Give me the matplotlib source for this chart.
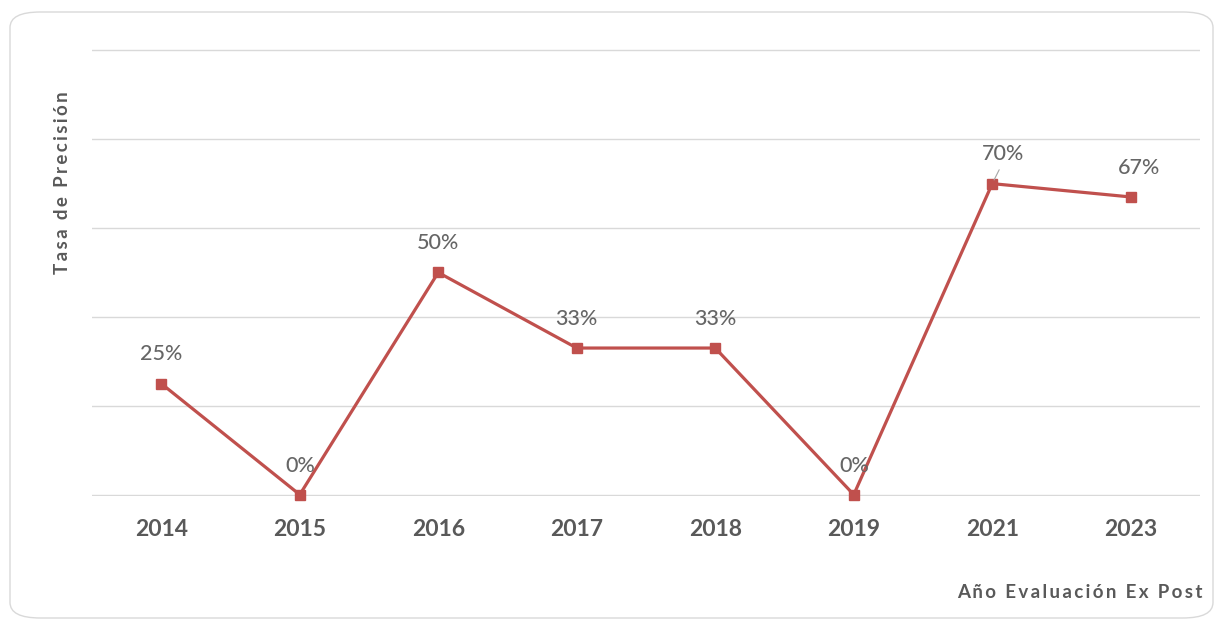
import matplotlib.pyplot as plt
from matplotlib.patches import FancyBboxPatch

# tasa de precision por año de evaluacion ex post
anios = ["2014", "2015", "2016", "2017", "2018", "2019", "2021", "2023"]
tasa = [0.25, 0.0, 0.50, 0.33, 0.33, 0.0, 0.70, 0.67]
etiquetas = ["25%", "0%", "50%", "33%", "33%", "0%", "70%", "67%"]

rojo = "#C0504D"
gris_txt = "#595959"
gris_lbl = "#666666"
fuente = ["Lato", "DejaVu Sans"]


def espaciado(texto, sep="\u2009"):
    # letras separadas, como el titulo de eje original
    return sep.join(texto)


fig = plt.figure(figsize=(12.15, 6.21), dpi=100)

# marco redondeado del area del grafico
marco = FancyBboxPatch((10 / 1215, 1 - 618 / 621), 1203 / 1215, 606 / 621,
                       boxstyle="round,pad=0,rounding_size=0.025",
                       transform=fig.transFigure, fill=False,
                       edgecolor="#D9D9D9", linewidth=1.0)
fig.patches.append(marco)

ax = fig.add_axes([92 / 1215, 1 - 496 / 621, 1108 / 1215, 447 / 621])
x = list(range(len(anios)))
ax.plot(x, tasa, color=rojo, linewidth=2.3, marker="s", markersize=7,
        markerfacecolor=rojo, markeredgecolor=rojo, zorder=3, clip_on=False)

ax.set_xlim(-0.5, len(anios) - 0.5)
ax.set_ylim(-0.003, 1.003)
ax.set_yticks([0, 0.2, 0.4, 0.6, 0.8, 1.0])
ax.yaxis.grid(True, color="#D9D9D9", linewidth=1.0)
ax.set_axisbelow(True)
ax.tick_params(axis="y", left=False, labelleft=False)
ax.tick_params(axis="x", bottom=False, pad=13)
ax.set_xticks(x)
ax.set_xticklabels(anios, fontsize=16.5, fontweight="bold", color=gris_txt,
                   family=fuente)
for s in ax.spines.values():
    s.set_visible(False)

# etiquetas de datos
for i, (v, t) in enumerate(zip(tasa, etiquetas)):
    dx = 0
    if t == "70%":
        dx = 8
    elif t == "67%":
        dx = 6
    ax.annotate(t, (i, v), xytext=(dx, 21), textcoords="offset points",
                ha="center", va="center", fontsize=15.5, fontweight="medium",
                color=gris_lbl, family=fuente)

# linea guia de la etiqueta 2021
i21 = anios.index("2021")
ax.annotate("", xy=(i21, tasa[i21]), xytext=(5, 10), textcoords="offset points",
            xycoords="data",
            arrowprops=dict(arrowstyle="-", color="#A6A6A6", linewidth=0.8,
                            shrinkA=0, shrinkB=3))

fig.text(62 / 1215, 1 - 183 / 621, espaciado("Tasa de Precisión"), rotation=90,
         ha="center", va="center", fontsize=13.5, fontweight="bold",
         color=gris_txt, family=fuente)
fig.text(1203 / 1215, 1 - 593 / 621, espaciado("Año Evaluación Ex Post"),
         ha="right", va="center", fontsize=13.5, fontweight="bold",
         color=gris_txt, family=fuente)

fig.savefig("out.png", dpi=100, facecolor="white")
